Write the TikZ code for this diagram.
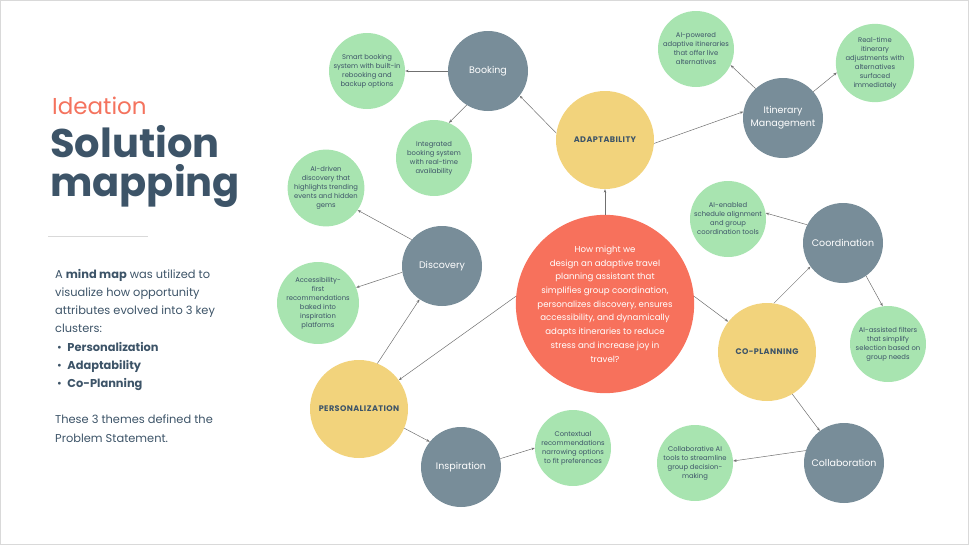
\documentclass[tikz,border=0pt]{standalone}
\usepackage{fontspec}
\setmainfont{Poppins}
\usetikzlibrary{arrows.meta}
\definecolor{navy}{HTML}{3D5468}
\definecolor{coral}{HTML}{F4735E}
\definecolor{tomato}{HTML}{F7715C}
\definecolor{leaf}{HTML}{A8E4B0}
\definecolor{slate}{HTML}{788D99}
\definecolor{sun}{HTML}{F2D37C}
\definecolor{wire}{HTML}{707070}
\definecolor{edge}{HTML}{D9D9D9}
\begin{document}
\begin{tikzpicture}[x=1pt,y=-1pt,
  idea/.style={circle,fill=leaf,minimum size=76pt,inner sep=0pt,align=center,
    text=navy,font=\fontsize{6.8}{9}\selectfont},
  topic/.style={circle,fill=slate,minimum size=80pt,inner sep=0pt,align=center,
    text=white,font=\fontsize{9.5}{13}\selectfont},
  theme/.style={circle,fill=sun,minimum size=98pt,inner sep=0pt,text=navy,
    font=\bfseries\fontsize{8.1}{9}\selectfont\addfontfeature{LetterSpace=5}},
  link/.style={draw=wire,line width=0.5pt,-{Stealth[length=3.5pt,width=2.6pt]}}]
  \useasboundingbox (0,0) rectangle (970,546);
  \draw[edge,line width=1.3pt] (0.7,0.7) rectangle (968.8,544.3);

  % left column
  \node[anchor=base west,inner sep=0pt,text=coral,font=\fontsize{23}{23}\selectfont] (ideation) at (52,114) {Ideation};
  \node[anchor=base west,inner sep=0pt,text=navy,font=\bfseries\fontsize{40}{38}\selectfont] (title) at (50,157) {Solution};
  \node[anchor=base west,inner sep=0pt,text=navy,font=\bfseries\fontsize{40}{38}\selectfont] (subtitle) at (50,196) {mapping};
  \draw[edge,line width=0.8pt] (48,236) coordinate (rulea) -- (148,236) coordinate (ruleb);
  \node[anchor=north west,inner sep=0pt,text=navy,align=left,font=\fontsize{11.4}{18.2}\selectfont] (summary) at (55,269)
    {A \textbf{mind map} was utilized to\\
     visualize how opportunity\\
     attributes evolved into 3 key\\
     clusters:\\
     \,•\enspace\textbf{Personalization}\\
     \,•\enspace\textbf{Adaptability}\\
     \,•\enspace\textbf{Co-Planning}\\[18.2pt]
     These 3 themes defined the\\
     Problem Statement.};

  % centre and themes
  \node[circle,fill=tomato,minimum size=166pt,inner sep=0pt,align=center,text=white,
    font=\fontsize{8.6}{13.7}\selectfont] (hmw) at (605,304)
    {How might we\\design an adaptive travel\\planning assistant that\\simplifies group coordination,\\personalizes discovery, ensures\\accessibility, and dynamically\\adapts itineraries to reduce\\stress and increase joy in\\travel?};
  \node[theme] (adapt) at (605,140) {ADAPTABILITY};
  \node[theme] (pers) at (359,409) {PERSONALIZATION};
  \node[theme] (coplan) at (767,352) {CO-PLANNING};

  % topics
  \node[topic] (booking) at (488,71) {Booking};
  \node[topic] (itin) at (783,118) {Itinerary\\Management};
  \node[topic] (disc) at (442,266) {Discovery};
  \node[topic] (insp) at (461,467) {Inspiration};
  \node[topic] (coord) at (843,243) {Coordination};
  \node[topic] (collab) at (844,463) {Collaboration};

  % ideas
  \node[idea] (smart) at (367,71) {Smart booking\\system with built-in\\rebooking and\\backup options};
  \node[idea] (integ) at (434,158) {Integrated\\booking system\\with real-time\\availability};
  \node[idea] (aipow) at (696,49) {AI-powered\\adaptive itineraries\\that offer live\\alternatives};
  \node[idea] (realtime) at (875,63) {Real-time\\itinerary\\adjustments with\\alternatives\\surfaced\\immediately};
  \node[idea] (aidriven) at (326,188) {AI-driven\\discovery that\\highlights trending\\events and hidden\\gems};
  \node[idea] (access) at (318,303) {Accessibility-\\first\\recommendations\\baked into\\inspiration\\platforms};
  \node[idea] (context) at (573,448) {Contextual\\recommendations\\narrowing options\\to fit preferences};
  \node[idea] (aienabled) at (728,219) {AI-enabled\\schedule alignment\\and group\\coordination tools};
  \node[idea] (aiassist) at (888,344) {AI-assisted filters\\that simplify\\selection based on\\group needs};
  \node[idea] (collabai) at (695,463) {Collaborative AI\\tools to streamline\\group decision-\\making};

  % connectors
  \draw[link] (hmw.north) -- (adapt.south);
  \draw[link] (hmw.175) -- (pers.36);
  \draw[link] (hmw.5) -- (coplan.142);
  \draw[link] (adapt.172) -- (booking.322);
  \draw[link] (adapt.356) -- (itin.171);
  \draw[link] (booking.180) -- (smart.0);
  \draw[link] (booking.238) -- (integ.67);
  \draw[link] (itin.133) -- (aipow.335);
  \draw[link] (itin.41) -- (realtime.194);
  \draw[link] (pers.68) -- (disc.236);
  \draw[link] (pers.337) -- (insp.141);
  \draw[link] (disc.139) -- (aidriven.325);
  \draw[link] (disc.189) -- (access.22);
  \draw[link] (insp.12) -- (context.180);
  \draw[link] (coplan.82) -- (coord.216);
  \draw[link] (coplan.301) -- (collab.127);
  \draw[link] (coord.153) -- (aienabled.9);
  \draw[link] (coord.305) -- (aiassist.98);
  \draw[link] (collab.162) -- (collabai.3);
\end{tikzpicture}
\end{document}
